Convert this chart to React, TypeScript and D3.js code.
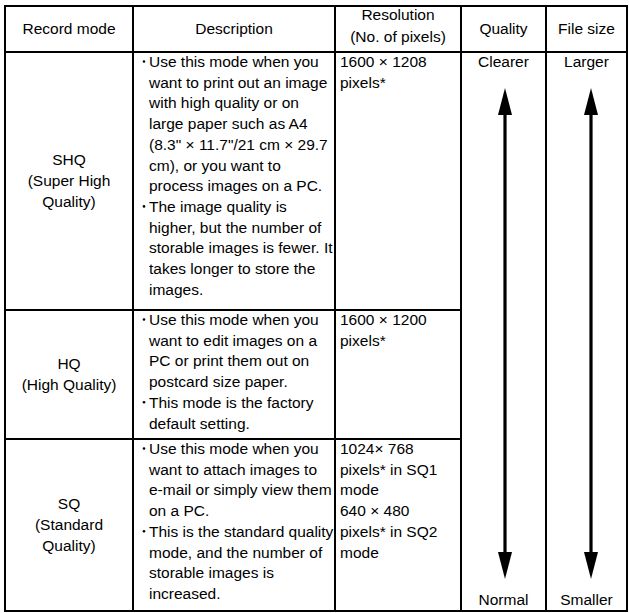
import React from 'react';
import * as d3 from 'd3';

// table content
const headers = [
  ['Record mode'],
  ['Description'],
  ['Resolution', '(No. of pixels)'],
  ['Quality'],
  ['File size'],
];

const modes = [
  ['SHQ', '(Super High', 'Quality)'],
  ['HQ', '(High Quality)'],
  ['SQ', '(Standard', 'Quality)'],
];

// lines starting with "•" open a new bullet point
const descriptions = [
  [
    '•Use this mode when you',
    'want to print out an image',
    'with high quality or on',
    'large paper such as A4',
    '(8.3" × 11.7"/21 cm × 29.7',
    'cm), or you want to',
    'process images on a PC.',
    '•The image quality is',
    'higher, but the number of',
    'storable images is fewer. It',
    'takes longer to store the',
    'images.',
  ],
  [
    '•Use this mode when you',
    'want to edit images on a',
    'PC or print them out on',
    'postcard size paper.',
    '•This mode is the factory',
    'default setting.',
  ],
  [
    '•Use this mode when you',
    'want to attach images to',
    'e-mail or simply view them',
    'on a PC.',
    '•This is the standard quality',
    'mode, and the number of',
    'storable images is',
    'increased.',
  ],
];

const resolutions = [
  ['1600 × 1208', 'pixels*'],
  ['1600 × 1200', 'pixels*'],
  ['1024× 768', 'pixels* in SQ1', 'mode', '640 × 480', 'pixels* in SQ2', 'mode'],
];

const qualityEnds = ['Clearer', 'Normal'];
const sizeEnds = ['Larger', 'Smaller'];

const W = 629;
const H = 613;
const FONT = "'Liberation Sans', Arial, Helvetica, sans-serif";
const FS = 15.5;
const LH = 20.7;

const tableLeft = 5;
const tableTop = 6;
const headerBottom = 52;
const tableBottom = 611;
const colWidths = [128, 202, 126, 85, 81];

export default function App() {
  const colEdges = [tableLeft, ...Array.from(d3.cumsum(colWidths), (c) => tableLeft + c)];
  const tableRight = colEdges[colEdges.length - 1];

  // rows share the body height in proportion to their description lines
  const lineCounts = descriptions.map((d) => d.length);
  const cum = [0, ...Array.from(d3.cumsum(lineCounts))];
  const y = d3.scaleLinear().domain([0, d3.sum(lineCounts)]).range([headerBottom, tableBottom]);
  const rowEdges = cum.map((c) => y(c));

  const colMid = (i: number) => (colEdges[i] + colEdges[i + 1]) / 2;
  const headerMid = (tableTop + headerBottom) / 2;

  const arrow = (cx: number, key: string) => {
    const topTip = headerBottom + 36;
    const botTip = tableBottom - 32;
    const headH = 27;
    const headW = 7;
    return (
      <g key={key} fill="#000">
        <path d={`M${cx},${topTip} L${cx + headW},${topTip + headH} L${cx - headW},${topTip + headH} Z`} />
        <rect x={cx - 1.6} y={topTip + headH - 1} width={3.2} height={botTip - topTip - 2 * headH + 2} />
        <path d={`M${cx},${botTip} L${cx + headW},${botTip - headH} L${cx - headW},${botTip - headH} Z`} />
      </g>
    );
  };

  return (
    <svg
      width={W}
      height={H}
      style={{ position: 'absolute', left: 0, top: 0, background: '#fff' }}
      fontFamily={FONT}
      fontSize={FS}
    >
      <rect x={0} y={0} width={W} height={H} fill="#fff" />

      {/* header */}
      {headers.map((lines, i) =>
        lines.map((t, j) => (
          <text
            key={`h${i}-${j}`}
            x={colMid(i)}
            y={headerMid + 4.5 + (j - (lines.length - 1) / 2) * 22 - (lines.length - 1) * 2.5}
            textAnchor="middle"
          >
            {t}
          </text>
        ))
      )}

      {/* record modes */}
      {modes.map((lines, r) => {
        const mid = (rowEdges[r] + rowEdges[r + 1]) / 2;
        return lines.map((t, j) => (
          <text key={`m${r}-${j}`} x={colMid(0)} y={mid + 5 + (j - (lines.length - 1) / 2) * LH} textAnchor="middle">
            {t}
          </text>
        ));
      })}

      {/* descriptions */}
      {descriptions.map((lines, r) =>
        lines.map((t, j) => {
          const yy = rowEdges[r] + 15 + j * LH;
          const bullet = t.startsWith('•');
          const x0 = colEdges[1] + 16;
          return (
            <g key={`d${r}-${j}`}>
              {bullet && <circle cx={colEdges[1] + 11} cy={yy - 5.5} r={1.3} fill="#000" />}
              <text x={x0} y={yy}>
                {bullet ? t.slice(1) : t}
              </text>
            </g>
          );
        })
      )}

      {/* resolutions */}
      {resolutions.map((lines, r) =>
        lines.map((t, j) => (
          <text key={`r${r}-${j}`} x={colEdges[2] + 5} y={rowEdges[r] + 15 + j * LH}>
            {t}
          </text>
        ))
      )}

      {/* quality / file size scale ends */}
      {[qualityEnds, sizeEnds].map((ends, k) => (
        <g key={`e${k}`}>
          <text x={colMid(3 + k)} y={headerBottom + 15} textAnchor="middle">
            {ends[0]}
          </text>
          <text x={colMid(3 + k)} y={tableBottom - 6} textAnchor="middle">
            {ends[1]}
          </text>
        </g>
      ))}
      {arrow(colMid(3) + 1.5, 'qa')}
      {arrow(colMid(4) + 4.5, 'sa')}

      {/* grid */}
      <g stroke="#000" strokeWidth={2} fill="none">
        <rect x={tableLeft} y={tableTop} width={tableRight - tableLeft} height={tableBottom - tableTop} />
        <line x1={tableLeft} x2={tableRight} y1={headerBottom} y2={headerBottom} />
        {colEdges.slice(1, -1).map((x, i) => (
          <line key={`c${i}`} x1={x} x2={x} y1={tableTop} y2={tableBottom} />
        ))}
        {rowEdges.slice(1, -1).map((yy, i) => (
          <line key={`rw${i}`} x1={tableLeft} x2={colEdges[3]} y1={yy} y2={yy} />
        ))}
      </g>
    </svg>
  );
}
